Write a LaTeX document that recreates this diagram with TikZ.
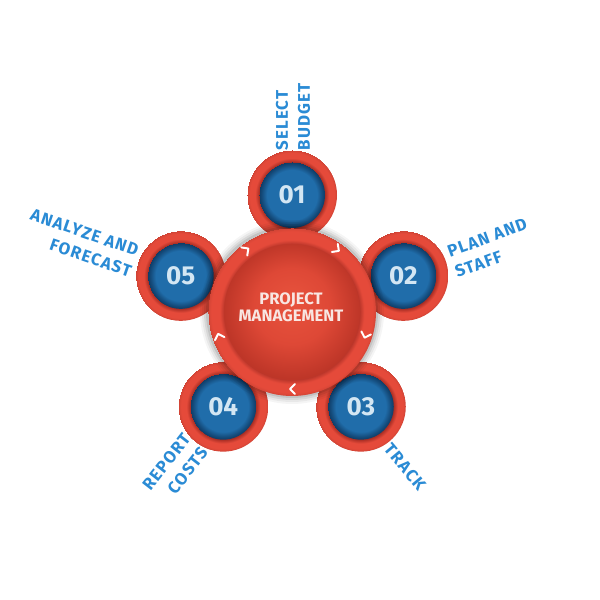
\documentclass[tikz,border=0pt]{standalone}
\usepackage{fontspec}
\setmainfont{Fira Sans}
\newfontfamily\lblfont{Fira Sans}[LetterSpace=7]
\definecolor{lblblue}{HTML}{2A8BD5}
\definecolor{redm}{HTML}{E54A3A}
\definecolor{redd}{HTML}{A92E24}
\definecolor{sphin}{HTML}{E8533D}
\definecolor{sphmid}{HTML}{DE4836}
\definecolor{sphout}{HTML}{BE3628}
\definecolor{bluein}{HTML}{206DAA}
\definecolor{blueout}{HTML}{0F3C66}
\definecolor{numcol}{HTML}{D3E6F3}
\definecolor{pmtext}{HTML}{F8E6E2}
\pgfdeclareradialshading{sphshade}{\pgfpoint{0bp}{4bp}}{color(0bp)=(sphin); color(14bp)=(sphmid); color(25bp)=(sphout); color(30bp)=(sphout)}
\pgfdeclareradialshading{blueshade}{\pgfpoint{0bp}{0bp}}{color(0bp)=(bluein); color(19bp)=(bluein); color(23bp)=(blueout!70!bluein); color(25bp)=(blueout)}
\pgfdeclareradialshading{smallred}{\pgfpoint{0bp}{0bp}}{color(0bp)=(redd); color(18.3bp)=(redd); color(20.5bp)=(redm); color(23.5bp)=(redm); color(25bp)=(redm!90!black)}
\pgfdeclareradialshading{ringred}{\pgfpoint{0bp}{0bp}}{color(0bp)=(redd); color(20.2bp)=(redd!70!redm); color(21.5bp)=(redm); color(24bp)=(redm); color(25bp)=(redm!92!black)}
\begin{document}
\begin{tikzpicture}[x=0.025cm,y=0.025cm,
  lbl/.style={text=lblblue, font=\lblfont\fontsize{12}{15.6}\selectfont\bfseries, inner sep=0pt},
  numtxt/.style={text=numcol, font=\fontsize{18.5}{20}\selectfont\bfseries, inner sep=0pt},
  pmtxt/.style={text=pmtext, font=\fontsize{11.8}{12.2}\selectfont\bfseries, align=center, inner sep=0pt},
  chev/.style={draw=white, line width=1.4pt, line cap=round, line join=round}]
\fill[white] (0,0) rectangle (600,600);
\useasboundingbox (0,0) rectangle (600,600);
\coordinate (C) at (292,288);
\foreach \i/\a in {1/90,2/18,3/-54,4/-126,5/162}{
  \coordinate (p\i) at ([shift={(\a:117)}]C);
}
% small circles
\foreach \i in {1,...,5}{
  \shade[shading=smallred] (p\i) circle (45);
  \shade[shading=blueshade] (p\i) circle (33);
}
% shadow of ring
\foreach \r/\o in {92/0.04,90/0.05,88/0.07,86/0.09}{
  \fill[black, opacity=\o] (C) circle (\r);
}
% ring band
\shade[shading=ringred] (C) circle (84);
% sphere
\shade[shading=sphshade] (C) circle (68);
% chevrons (pointing clockwise)
\foreach \a in {54,-18,-90,-162,126}{
  \begin{scope}[shift={(C)}, rotate=\a]
    \draw[chev] (72,3) -- (77,-2) -- (82,3);
  \end{scope}
}
% numbers
\node[numtxt] (n1) at (p1) {01};
\node[numtxt] (n2) at (p2) {02};
\node[numtxt] (n3) at (p3) {03};
\node[numtxt] (n4) at (p4) {04};
\node[numtxt] (n5) at (p5) {05};
% centre text
\node[pmtxt] (pm) at (291,293) {PROJECT\\MANAGEMENT};
% labels
\node[lbl, rotate=90, align=left] (l1) at (293,483) {SELECT\\BUDGET};
\node[lbl, rotate=20, align=left] (l2) at (491,352) {PLAN AND\\STAFF};
\node[lbl, rotate=-50, align=left] (l3) at (405,133) {TRACK};
\node[lbl, rotate=52, align=right] (l4) at (175,131) {REPORT\\COSTS};
\node[lbl, rotate=-19, align=right] (l5) at (81,357) {ANALYZE AND\\FORECAST};
\end{tikzpicture}
\end{document}
